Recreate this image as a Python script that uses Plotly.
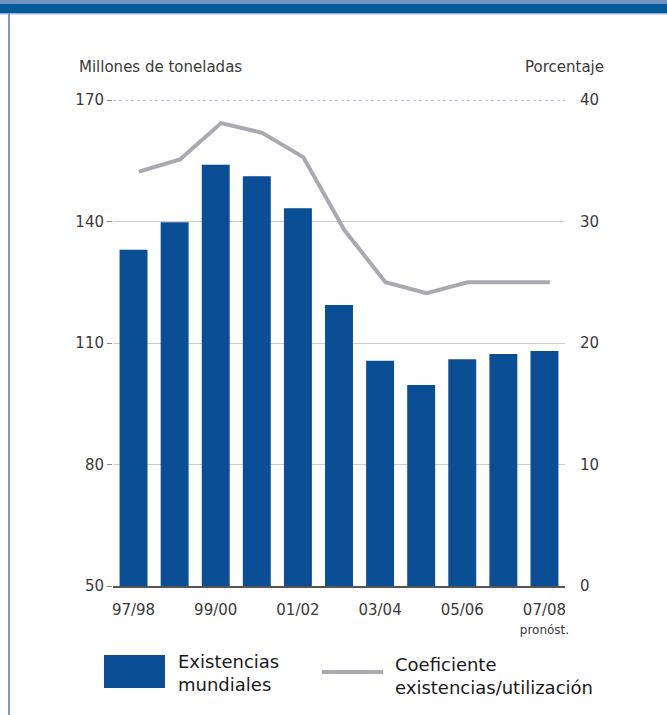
import plotly.graph_objects as go

# ---- data ----
seasons = ["97/98", "98/99", "99/00", "00/01", "01/02", "02/03",
           "03/04", "04/05", "05/06", "06/07", "07/08"]
stocks = [133.0, 139.8, 154.0, 151.2, 143.3, 119.4, 105.6, 99.6, 106.0, 107.3, 108.0]
ratio = [34.1, 35.1, 38.1, 37.3, 35.3, 29.3, 25.0, 24.1, 25.0, 25.0, 25.0]
tick_seasons = ["97/98", "99/00", "01/02", "03/04", "05/06", "07/08"]
tick_text = ["97/98", "99/00", "01/02", "03/04", "05/06",
             "07/08<br><span style='font-size:12px'>pronóst.</span>"]
left_ticks = [50, 80, 110, 140, 170]
right_ticks = [0, 10, 20, 30, 40]

W, H = 667, 715
L, R, T, B = 113, 102, 100, 129
PW, PH = W - L - R, H - T - B


def px(X):
    return (X - L) / PW


def py(Y):
    return (T + PH - Y) / PH


BAR = "#0a4e96"
LINE = "#a9a9b1"
FONT = "DejaVu Sans"
TXT = "#3a3a3a"
LINE_SHIFT = 0.13  # the ratio line sits slightly right of the bar centres

fig = go.Figure()
fig.add_trace(go.Bar(x=seasons, y=[v - 50 for v in stocks], base=50, marker_color=BAR,
                     marker_line_width=0, name="Existencias mundiales",
                     xaxis="x", yaxis="y"))
fig.add_trace(go.Scatter(x=seasons, y=ratio, mode="lines", xaxis="x2", yaxis="y2",
                         line=dict(color=LINE, width=4),
                         name="Coeficiente existencias/utilización"))

shapes = [
    # header bands
    dict(type="rect", xref="paper", yref="paper", x0=px(0), x1=px(W), y0=py(4), y1=py(0),
         fillcolor="#7292c2", line_width=0, layer="above"),
    dict(type="rect", xref="paper", yref="paper", x0=px(0), x1=px(W), y0=py(13), y1=py(4),
         fillcolor="#005a9c", line_width=0, layer="above"),
    dict(type="rect", xref="paper", yref="paper", x0=px(0), x1=px(W), y0=py(14.5), y1=py(13),
         fillcolor="#9fb4d2", line_width=0, layer="above"),
    # left border
    dict(type="rect", xref="paper", yref="paper", x0=px(8), x1=px(10), y0=py(H), y1=py(13),
         fillcolor="#7f9cc4", line_width=0, layer="above"),
    # top dotted gridline
    dict(type="line", xref="paper", yref="y", x0=0, x1=1, y0=170, y1=170,
         line=dict(color="#8a8ad8", width=1, dash="dot"), layer="below"),
    # legend swatches
    dict(type="rect", xref="paper", yref="paper", x0=px(104), x1=px(165), y0=py(688), y1=py(655),
         fillcolor=BAR, line_width=0),
    dict(type="line", xref="paper", yref="paper", x0=px(322), x1=px(383), y0=py(672), y1=py(672),
         line=dict(color=LINE, width=4)),
]

annotations = [
    dict(text="Millones de toneladas", xref="paper", yref="paper", x=px(77), y=py(67),
         xanchor="left", yanchor="middle", showarrow=False, font=dict(size=15, color=TXT, family=FONT)),
    dict(text="Porcentaje", xref="paper", yref="paper", x=px(606), y=py(67),
         xanchor="right", yanchor="middle", showarrow=False, font=dict(size=15, color=TXT, family=FONT)),
    dict(text="Existencias<br>mundiales", xref="paper", yref="paper", x=px(176), y=py(673),
         xanchor="left", yanchor="middle", align="left", showarrow=False,
         font=dict(size=18, color="#1a1a1a", family=FONT)),
    dict(text="Coeficiente<br>existencias/utilización", xref="paper", yref="paper", x=px(393), y=py(676),
         xanchor="left", yanchor="middle", align="left", showarrow=False,
         font=dict(size=18, color="#1a1a1a", family=FONT)),
]

n = len(seasons)
fig.update_layout(
    width=W, height=H,
    margin=dict(l=L, r=R, t=T, b=B),
    paper_bgcolor="white", plot_bgcolor="white",
    showlegend=False,
    bargap=0.32,
    font=dict(family=FONT, color=TXT, size=15),
    shapes=shapes,
    annotations=annotations,
    xaxis=dict(type="category", categoryorder="array", categoryarray=seasons,
               range=[-0.5, n - 0.5],
               tickvals=tick_seasons, ticktext=tick_text,
               showline=True, linecolor="#555", linewidth=1.5,
               ticks="outside", ticklen=9, tickcolor="rgba(0,0,0,0)",
               showgrid=False, tickfont=dict(size=15, color=TXT)),
    xaxis2=dict(type="category", categoryorder="array", categoryarray=seasons,
                range=[-0.5 - LINE_SHIFT, n - 0.5 - LINE_SHIFT],
                overlaying="x", visible=False),
    yaxis=dict(range=[50, 170], tickvals=left_ticks, showgrid=True,
               gridcolor="#cccccc", gridwidth=1, zeroline=False,
               ticks="outside", ticklen=5, tickcolor="#888", showline=False,
               tickfont=dict(size=15, color=TXT)),
    yaxis2=dict(range=[0, 40], tickvals=right_ticks, overlaying="y", side="right",
                showgrid=False, zeroline=False, ticks="outside", ticklen=11,
                tickcolor="rgba(0,0,0,0)", tickfont=dict(size=15, color=TXT)),
)

fig.write_html("out.html", config={"displayModeBar": False},
               post_script="document.body.style.margin='0';")
